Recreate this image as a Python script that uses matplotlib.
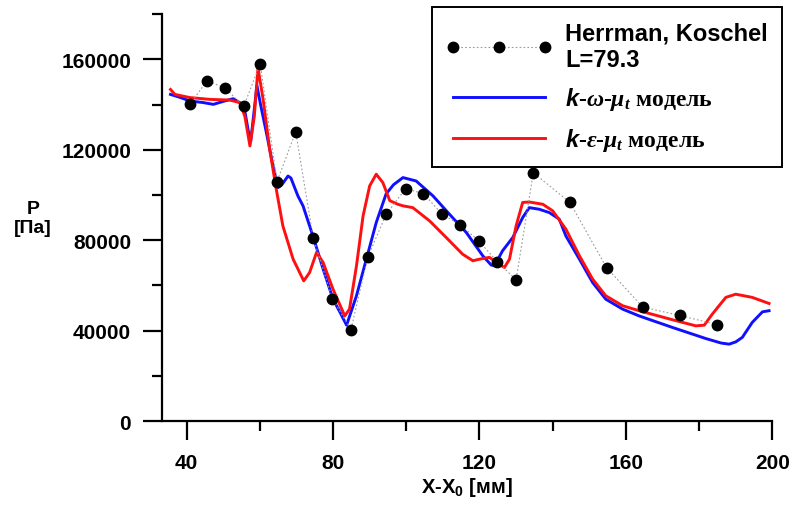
import numpy as np
import matplotlib
matplotlib.use('Agg')
import matplotlib.pyplot as plt
from matplotlib.ticker import FixedLocator

plt.rcParams['font.family'] = ['Liberation Sans', 'DejaVu Sans']
plt.rcParams['font.weight'] = 'bold'
plt.rcParams['mathtext.fontset'] = 'custom'
plt.rcParams['mathtext.it'] = 'Liberation Serif:italic'
plt.rcParams['mathtext.rm'] = 'Liberation Serif'
plt.rcParams['mathtext.bf'] = 'Liberation Sans:bold:italic'
plt.rcParams['mathtext.sf'] = 'Liberation Sans:bold'

# experiment (Herrman, Koschel)
exp_x = [40.9, 45.6, 50.6, 55.6, 60.1, 64.7, 69.8, 74.6, 79.8, 84.9, 89.5, 94.5, 99.8,
         104.7, 109.8, 114.8, 119.8, 124.9, 130.0, 134.7, 144.7, 154.7, 164.6, 174.7, 185.0]
exp_p = [140100, 150600, 147200, 139200, 158100, 105900, 128000, 80900, 54200, 40400,
         72600, 91400, 102800, 100600, 91500, 86800, 79700, 70400, 62500, 109900,
         96700, 67900, 50400, 46700, 42600]

# k-omega-mu_t model
kw_x = [35.6, 38.0, 40.9, 44.5, 47.3, 50.4, 52.7, 54.5, 55.9, 57.0, 57.5, 58.5, 59.2,
        60.2, 61.8, 63.6, 65.0, 66.0, 67.7, 68.5, 70.4, 71.8, 74.5, 77.3, 80.0, 82.0,
        83.7, 86.4, 89.1, 91.8, 94.5, 96.5, 99.1, 102.7, 107.3, 111.8, 116.4, 120.9,
        123.2, 124.1, 126.3, 129.1, 131.8, 133.6, 136.3, 139.1, 141.8, 143.6, 147.3,
        150.9, 154.5, 159.1, 163.6, 172.7, 181.8, 186.0, 188.2, 190.0, 191.8, 194.5,
        197.3, 199.1]
kw_p = [144500, 143300, 141600, 140900, 140100, 141600, 142600, 140900, 137200, 127000,
        123500, 138000, 148500, 140000, 127600, 112800, 103300, 104500, 108400, 107500,
        99600, 95200, 81900, 67200, 53900, 47800, 42400, 55400, 71600, 87800, 100500,
        104500, 107700, 106200, 99600, 91500, 83400, 73100, 69000, 68700, 75300, 81200,
        90000, 94400, 93700, 92200, 89300, 81900, 71600, 61300, 53900, 49500, 46500,
        41400, 36500, 34500, 34000, 35000, 37000, 43600, 48300, 48800]

# k-eps-mu_t model
ke_x = [35.6, 36.8, 40.9, 46.4, 51.8, 54.5, 55.9, 57.3, 58.5, 59.5, 60.9, 62.7, 64.5,
        66.3, 69.1, 72.0, 73.6, 75.5, 77.3, 80.0, 83.2, 84.5, 86.4, 88.2, 90.0, 91.8,
        93.6, 95.5, 97.7, 99.1, 101.8, 106.4, 110.9, 115.4, 118.2, 120.0, 122.7, 125.4,
        126.8, 128.2, 130.0, 131.8, 133.6, 137.3, 140.0, 143.6, 147.3, 150.9, 154.5,
        159.1, 163.6, 172.7, 179.1, 181.4, 183.6, 187.3, 190.0, 194.5, 199.1]
ke_p = [146700, 144500, 143100, 142300, 142000, 140900, 134900, 121700, 134900, 156300,
        142300, 120200, 102500, 86300, 71600, 62000, 65700, 74600, 70100, 58300, 46500,
        49500, 68600, 90700, 104000, 109200, 105500, 97500, 95900, 95200, 94400, 88500,
        81200, 73800, 70900, 71600, 72400, 69400, 67900, 71600, 86300, 96700, 96900,
        95900, 93000, 84900, 73100, 62800, 55400, 51000, 48800, 44800, 42100, 42400,
        47300, 54700, 56100, 54700, 52000]

fig = plt.figure(figsize=(7.95, 5.06), dpi=100)
ax = fig.add_axes([0.2034, 0.166, 0.9715 - 0.2034, 0.970 - 0.166])

ax.plot(kw_x, kw_p, color='#1010ff', lw=2.1, zorder=2,
        label=r'$\mathbf{k}$-$\omega$-$\mu_t$ модель')
ax.plot(ke_x, ke_p, color='#ff1010', lw=2.1, zorder=3,
        label=r'$\mathbf{k}$-$\varepsilon$-$\mu_t$ модель')
ax.plot(exp_x, exp_p, ls=(0, (1.5, 2)), color='#9a9a9a', lw=0.8, marker='o', ms=7.5,
        mfc='black', mec='black', zorder=4, label='Herrman, Koschel\nL=79.3')

ax.set_xlim(33.2, 200)
ax.set_ylim(0, 180000)
ax.xaxis.set_major_locator(FixedLocator([40, 80, 120, 160, 200]))
ax.xaxis.set_minor_locator(FixedLocator([60, 100, 140, 180]))
ax.yaxis.set_major_locator(FixedLocator([0, 40000, 80000, 120000, 160000]))
ax.yaxis.set_minor_locator(FixedLocator([20000, 60000, 100000, 140000, 180000]))
ax.set_yticklabels(['0', '40000', '80000', '120000', '160000'])
ax.set_xticklabels(['40', '80', '120', '160', '200'])

for s in ['top', 'right']:
    ax.spines[s].set_visible(False)
for s in ['left', 'bottom']:
    ax.spines[s].set_linewidth(1.6)
ax.tick_params(axis='both', which='major', direction='out', length=14, width=1.6,
               labelsize=15)
ax.tick_params(axis='both', which='minor', direction='out', length=7, width=1.6)
ax.tick_params(axis='x', which='major', pad=9)
ax.tick_params(axis='y', which='major', pad=8)
for t in ax.get_xticklabels() + ax.get_yticklabels():
    t.set_fontweight('bold')

ax.set_xlabel(r'X-X$_{\mathsf{0}}$ [мм]', fontsize=14.5, fontweight='bold', labelpad=2)
fig.text(33 / 795, 1 - 219 / 506, 'P\n[Па]', ha='center', va='center', ma='center',
         fontsize=14, fontweight='bold')

h, l = ax.get_legend_handles_labels()
leg = ax.legend([h[2], h[0], h[1]], [l[2], l[0], l[1]], loc='upper right',
                bbox_to_anchor=(0.9836, 0.984), bbox_transform=fig.transFigure,
                borderaxespad=0, fancybox=False, framealpha=1, edgecolor='black',
                numpoints=3, handlelength=4.5, handletextpad=0.55, labelspacing=0.6,
                fontsize=17, borderpad=0.6)
leg.get_frame().set_linewidth(1.4)
texts = leg.get_texts()
texts[0].set_fontfamily(['Liberation Sans', 'DejaVu Sans'])
texts[0].set_fontweight('bold')
for t in texts[1:]:
    t.set_fontfamily(['Liberation Serif', 'DejaVu Serif'])
    t.set_fontweight('bold')

fig.savefig('out.png', dpi=100)
